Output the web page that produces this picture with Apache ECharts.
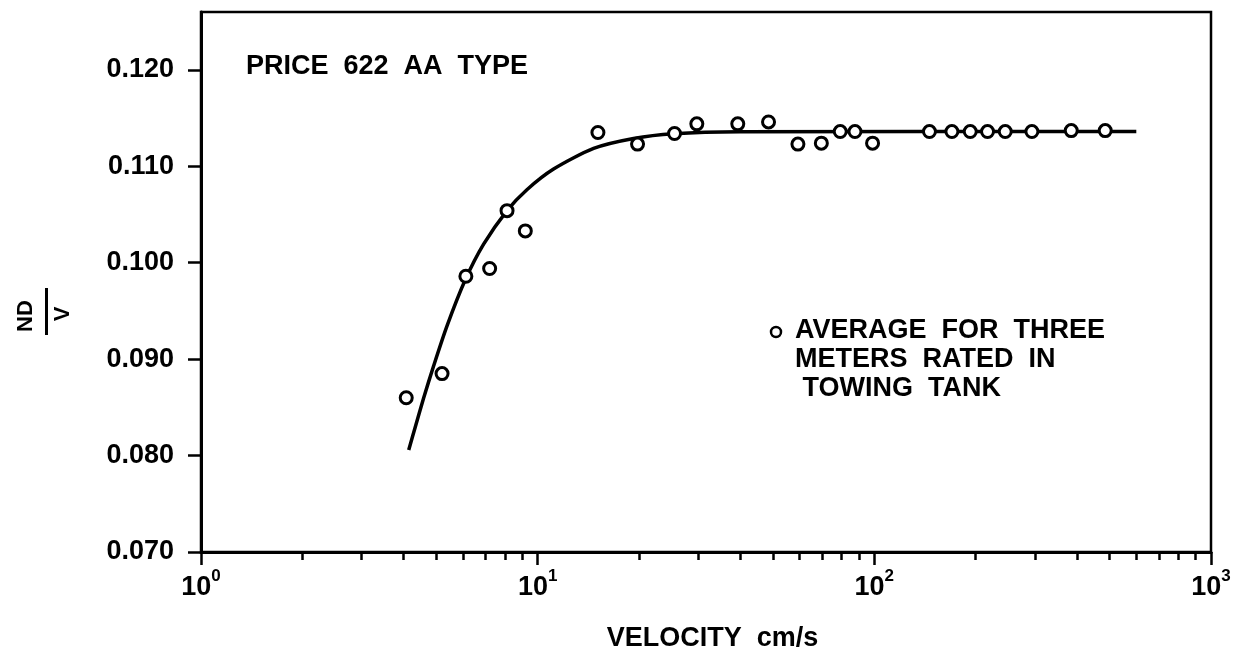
<!DOCTYPE html>
<html>
<head>
<meta charset="utf-8">
<script src="https://cdn.jsdelivr.net/npm/echarts@6/dist/echarts.min.js"></script>
<style>
  html, body { margin: 0; padding: 0; background: #fff; }
  #chart { width: 1250px; height: 657px; }
</style>
</head>
<body>
<div id="chart"></div>
<script>
// Towing-tank rating points: velocity (cm/s) and ND/V
const velocity = [4.07, 5.20, 6.12, 7.20, 8.11, 9.19, 15.1, 19.8, 25.5, 29.7, 39.3, 48.5,
                  59.3, 69.6, 79.2, 87.6, 98.8, 145.8, 170, 192.7, 216.9, 244.8, 293.8, 384.5, 485];
const ndv = [0.0860, 0.0885, 0.0986, 0.0994, 0.1054, 0.1033, 0.1135, 0.1123, 0.1134, 0.1144, 0.1144, 0.1146,
             0.1123, 0.1124, 0.1136, 0.1136, 0.1124, 0.1136, 0.1136, 0.1136, 0.1136, 0.1136, 0.1136, 0.1137, 0.1137];

// Fitted rating curve
const curveVelocity = [4.14, 4.33, 4.58, 4.91, 5.38, 6.10, 6.91, 8.11, 9.29, 11.15, 14.66, 19.27, 25.32, 39.97, 600];
const curveNdv = [0.08057, 0.08297, 0.08592, 0.08931, 0.09345, 0.09825, 0.10192, 0.10541, 0.10757,
                  0.10971, 0.11185, 0.11288, 0.11337, 0.11358, 0.11362];

// Axis ticks
const yTicks = [0.070, 0.080, 0.090, 0.100, 0.110, 0.120];
const xMajorTicks = [1, 10, 100, 1000];
const xMinorTicks = [2, 3, 4, 5, 6, 7, 8, 9, 20, 30, 40, 50, 60, 70, 80, 90, 200, 300, 400, 500, 600, 700, 800, 900];

// Texts
const titleText = 'PRICE  622  AA  TYPE';
const legendLines = ['AVERAGE  FOR  THREE', 'METERS  RATED  IN', ' TOWING  TANK'];
const xAxisTitle = 'VELOCITY  cm/s';
const yNumerator = 'ND';
const yDenominator = 'V';

const FONT = '"Liberation Sans", Arial, Helvetica, sans-serif';
const INK = '#000';

const chart = echarts.init(document.getElementById('chart'), null, { renderer: 'canvas' });

const points = velocity.map((v, i) => [v, ndv[i]]);
const curve = curveVelocity.map((v, i) => [v, curveNdv[i]]);

chart.setOption({
  backgroundColor: '#fff',
  animation: false,
  grid: {
    left: 201, right: 39, top: 12, bottom: 101,
    show: true, borderColor: INK, borderWidth: 2.5, backgroundColor: 'transparent'
  },
  xAxis: [
    {
      type: 'log', logBase: 10, min: 1, max: 1000,
      position: 'bottom',
      name: xAxisTitle, nameLocation: 'middle', nameGap: 73,
      nameTextStyle: { color: INK, fontSize: 27, fontWeight: 'bold', fontFamily: FONT, padding: [0, 0, 0, 13] },
      axisLine: { show: true, onZero: false, lineStyle: { color: INK, width: 3 } },
      axisTick: { show: true, inside: false, length: 13, customValues: xMajorTicks, lineStyle: { color: INK, width: 2.5 } },
      axisLabel: {
        show: true, margin: 16, customValues: xMajorTicks,
        formatter: (v) => '{b|10}{s|' + Math.round(Math.log10(v)) + '}',
        rich: {
          b: { fontSize: 27, fontWeight: 'bold', lineHeight: 40, fontFamily: FONT, color: INK },
          s: { fontSize: 17, fontWeight: 'bold', lineHeight: 17, fontFamily: FONT, color: INK, verticalAlign: 'top' }
        }
      },
      splitLine: { show: false }, minorTick: { show: false }
    },
    {
      type: 'log', logBase: 10, min: 1, max: 1000,
      position: 'bottom',
      axisLine: { show: false, onZero: false },
      axisTick: { show: true, inside: false, length: 8, customValues: xMinorTicks, lineStyle: { color: INK, width: 2.5 } },
      axisLabel: { show: false },
      splitLine: { show: false }
    }
  ],
  yAxis: {
    type: 'value', min: 0.07, max: 0.126, interval: 0.01,
    axisLine: { show: true, onZero: false, lineStyle: { color: INK, width: 3 } },
    axisTick: { show: true, inside: false, length: 13, customValues: yTicks, lineStyle: { color: INK, width: 2.5 } },
    axisLabel: {
      show: true, margin: 27, customValues: yTicks,
      color: INK, fontSize: 27, fontWeight: 'bold', fontFamily: FONT,
      formatter: (v) => v.toFixed(3)
    },
    splitLine: { show: false }
  },
  series: [
    {
      type: 'line', data: curve, xAxisIndex: 0,
      smooth: 0.25, showSymbol: false, symbol: 'none',
      lineStyle: { color: INK, width: 3.5 },
      z: 2
    },
    {
      type: 'scatter', data: points, xAxisIndex: 0,
      symbol: 'circle', symbolSize: 12,
      itemStyle: { color: '#fff', borderColor: INK, borderWidth: 3, opacity: 1 },
      z: 3
    }
  ],
  graphic: [
    {
      type: 'text', x: 246, y: 67,
      style: { text: titleText, fill: INK, font: 'bold 27px ' + FONT, align: 'left', verticalAlign: 'middle' }
    },
    {
      type: 'circle', shape: { cx: 776, cy: 332, r: 5 },
      style: { fill: '#fff', stroke: INK, lineWidth: 2.5 }
    },
    ...legendLines.map((t, i) => ({
      type: 'text', x: 795, y: 331 + i * 29,
      style: { text: t, fill: INK, font: 'bold 27px ' + FONT, align: 'left', verticalAlign: 'middle' }
    })),
    {
      type: 'text', x: 26, y: 316, rotation: Math.PI / 2,
      style: { text: yNumerator, fill: INK, font: 'bold 22px ' + FONT, align: 'center', verticalAlign: 'middle' }
    },
    {
      type: 'rect', shape: { x: 45, y: 288, width: 3, height: 47 },
      style: { fill: INK }
    },
    {
      type: 'text', x: 63, y: 314, rotation: Math.PI / 2,
      style: { text: yDenominator, fill: INK, font: 'bold 22px ' + FONT, align: 'center', verticalAlign: 'middle' }
    }
  ]
});
</script>
</body>
</html>
